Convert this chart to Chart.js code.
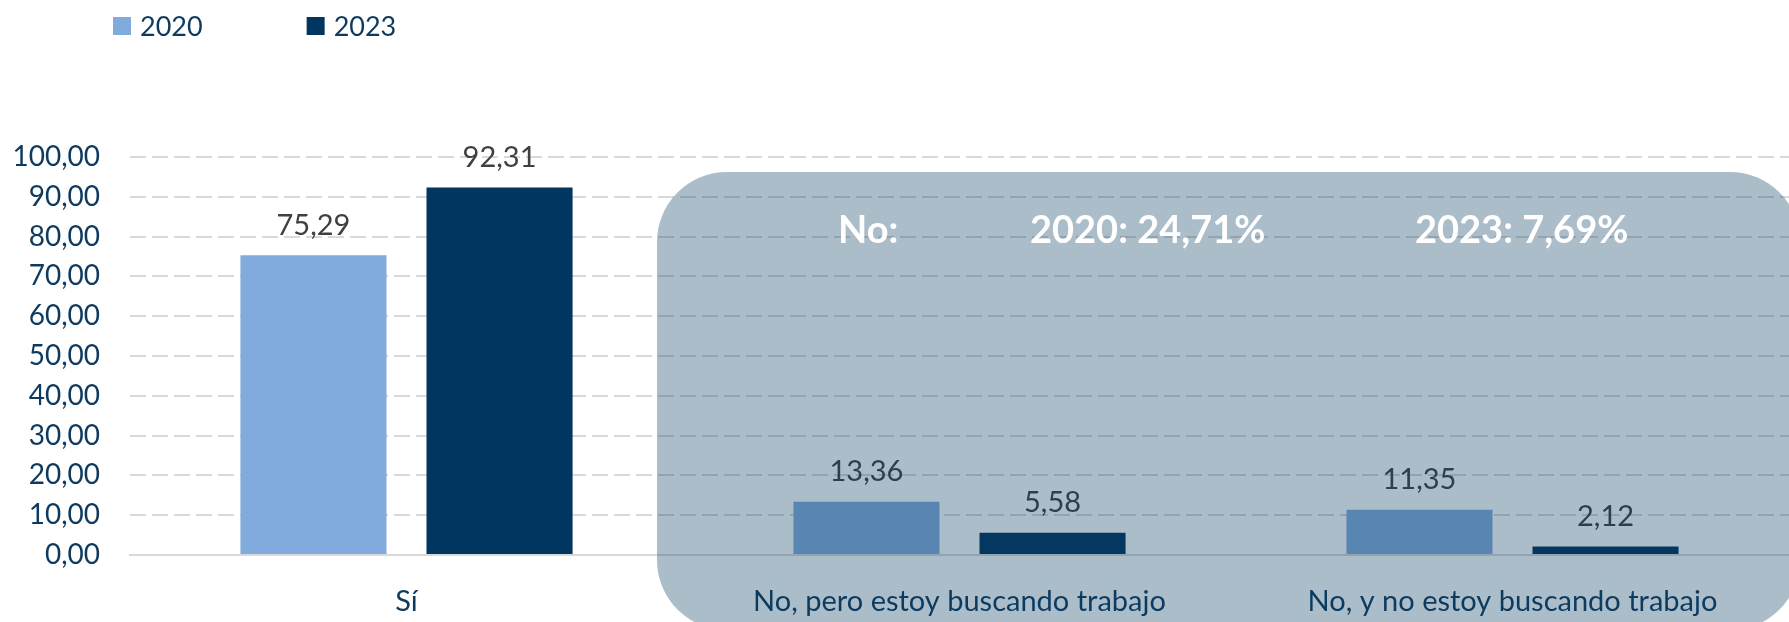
<!DOCTYPE html>
<html>
<head>
<meta charset="utf-8">
<script src="https://cdn.jsdelivr.net/npm/chart.js@4.4.1/dist/chart.umd.min.js"></script>
<style>
    body { margin: 0; background: #ffffff; }
    #wrap { width: 1789px; height: 622px; position: relative; }
</style>
</head>
<body>
<div id="wrap"><canvas id="chart"></canvas></div>
<script>
var categories = ['Sí', 'No, pero estoy buscando trabajo', 'No, y no estoy buscando trabajo'];
var seriesNames = ['2020', '2023'];
var values2020 = [75.29, 13.36, 11.35];
var values2023 = [92.31, 5.58, 2.12];
var yTicks = [0, 10, 20, 30, 40, 50, 60, 70, 80, 90, 100];
var noSummary = ['No:', '2020: 24,71%', '2023: 7,69%'];

var navy = '#0d3a5e';

function comma(v) {
    return v.toFixed(2).replace('.', ',');
}

// value labels above each bar
var valueLabels = {
    id: 'valueLabels',
    afterDatasetsDraw: function (chart) {
        var ctx = chart.ctx;
        ctx.save();
        ctx.font = '29px Lato';
        ctx.fillStyle = '#404040';
        ctx.textAlign = 'center';
        ctx.textBaseline = 'middle';
        chart.data.datasets.forEach(function (ds, i) {
            chart.getDatasetMeta(i).data.forEach(function (bar, j) {
                ctx.fillText(comma(ds.data[j]), bar.x, bar.y - 30);
            });
        });
        ctx.restore();
    }
};

// grey rounded panel over the "No" answers, plus the summary text
var noPanel = {
    id: 'noPanel',
    afterDraw: function (chart) {
        var ctx = chart.ctx;
        var x0 = 657, y0 = 172, x1 = 1800, y1 = 630, r = 70;
        ctx.save();
        ctx.beginPath();
        ctx.roundRect(x0, y0, x1 - x0, y1 - y0, r);
        ctx.fillStyle = 'rgba(12, 62, 100, 0.34)';
        ctx.fill();

        ctx.font = 'bold 38px Lato';
        ctx.fillStyle = '#ffffff';
        ctx.textBaseline = 'alphabetic';
        var xs = [838, 1030, 1415];
        noSummary.forEach(function (t, i) {
            ctx.fillText(t, xs[i], 243);
        });
        ctx.restore();
    }
};

// plain legend, top left
var topLegend = {
    id: 'topLegend',
    afterDraw: function (chart) {
        var ctx = chart.ctx;
        var x = 113;
        ctx.save();
        ctx.font = '27px Lato';
        ctx.textBaseline = 'middle';
        chart.data.datasets.forEach(function (ds) {
            ctx.fillStyle = ds.backgroundColor;
            ctx.fillRect(x, 17, 18, 18);
            ctx.fillStyle = navy;
            ctx.fillText(ds.label, x + 27, 27);
            x += 27 + ctx.measureText(ds.label).width + 104;
        });
        ctx.restore();
    }
};

var ctx = document.getElementById('chart');
var chart = new Chart(ctx, {
    type: 'bar',
    data: {
        labels: categories,
        datasets: [
            {
                label: seriesNames[0],
                data: values2020,
                backgroundColor: '#82abdd'
            },
            {
                label: seriesNames[1],
                data: values2023,
                backgroundColor: '#00365f'
            }
        ]
    },
    options: {
        responsive: true,
        maintainAspectRatio: false,
        animation: false,
        layout: { padding: { top: 157, left: 0, right: 0, bottom: 0 } },
        datasets: {
            bar: { categoryPercentage: 0.673, barPercentage: 0.785 }
        },
        plugins: {
            legend: { display: false },
            tooltip: { enabled: false }
        },
        scales: {
            x: {
                grid: { display: false },
                border: { display: true, color: '#d9d9d9', width: 2 },
                ticks: {
                    color: navy,
                    font: { family: 'Lato', size: 29 },
                    padding: 21,
                    maxRotation: 0
                },
                afterFit: function (scale) { scale.height = 67; }
            },
            y: {
                min: 0,
                max: 100,
                afterBuildTicks: function (scale) {
                    scale.ticks = yTicks.map(function (v) { return { value: v }; });
                },
                grid: { color: '#d9d9d9', lineWidth: 2, drawTicks: false },
                border: { display: false, dash: [16, 6] },
                ticks: {
                    color: navy,
                    font: { family: 'Lato', size: 28 },
                    padding: 30,
                    callback: function (v) { return comma(v); }
                },
                afterFit: function (scale) { scale.width = 130; }
            }
        }
    },
    plugins: [valueLabels, noPanel, topLegend]
});
</script>
</body>
</html>
